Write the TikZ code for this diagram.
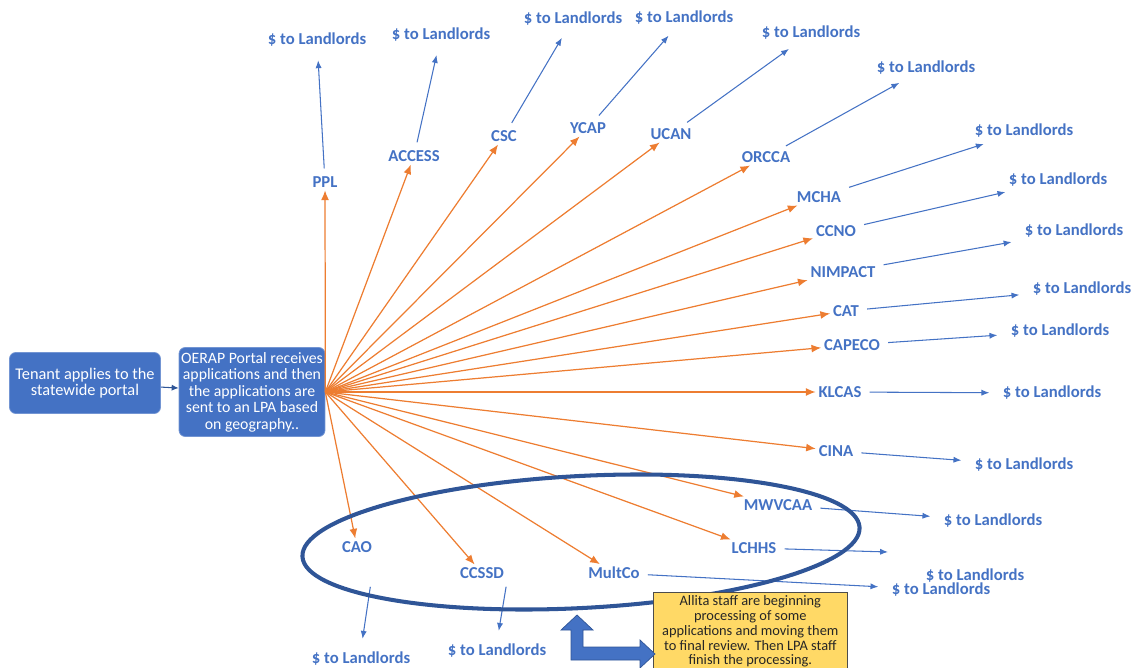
\documentclass[tikz,border=0pt]{standalone}
\usepackage{fontspec}
\setmainfont{Carlito}
\usetikzlibrary{arrows.meta}
\definecolor{lpablue}{RGB}{68,114,196}
\definecolor{feedorange}{RGB}{237,125,49}
\definecolor{ringblue}{RGB}{47,85,151}
\definecolor{notegold}{RGB}{255,217,102}
\tikzset{
	lpa/.style={font=\bfseries\fontsize{9.5}{11}\selectfont, text=lpablue, inner sep=1.5pt},
	feed/.style={feedorange, line width=0.7pt, -{Latex[length=5.5pt,width=4.5pt]}},
	pay/.style={lpablue, line width=0.6pt, -{Latex[length=4.5pt,width=3.5pt]}, shorten <=3pt, shorten >=6pt},
	portal/.style={fill=lpablue, draw=lpablue!75!white, rounded corners=3.5pt, text=white, align=center, inner sep=0pt, font=\fontsize{9.3}{9.4}\selectfont},
}
\begin{document}
\begin{tikzpicture}[x=0.02cm, y=-0.02cm]
	\useasboundingbox (0,0) rectangle (1131,668);
	
	%portal boxes
	\node[portal, minimum width=3.02cm, minimum height=1.22cm] (tenant) at (85,383) {Tenant applies to the\\statewide portal};
	\node[portal, minimum width=2.92cm, minimum height=1.78cm, font=\fontsize{9}{9.4}\selectfont] (oerap) at (252,392) {OERAP Portal receives\\applications and then\\the applications are\\sent to an LPA based\\on geography..};
	\draw[ringblue, line width=0.6pt, -{Latex[length=4pt,width=3.5pt]}] (tenant) -- (oerap);
	\coordinate (hub) at (oerap.east);
	
	%local program administrators
	\foreach \name/\txt/\x/\y in {ppl/PPL/325/182, access/ACCESS/414/156, csc/CSC/504/136, ycap/YCAP/588/128,
		ucan/UCAN/671/134, orcca/ORCCA/766/157, mcha/MCHA/819/197, ccno/CCNO/836/231, nimpact/NIMPACT/843/272,
		cat/CAT/846/311, capeco/CAPECO/852/345, klcas/KLCAS/840/392, cina/CINA/836/451, mwvcaa/MWVCAA/778/505,
		lchhs/LCHHS/754/548, multco/MultCo/614/573, ccssd/CCSSD/482/573, cao/CAO/357/547}{
		\node[lpa] (\name) at (\x,\y) {\txt};
		\draw[feed] (hub) -- (\name);
	}
	
	%payments
	\foreach \name/\x/\y in {dppl/317/40, daccess/441/35, dcsc/573/19, dycap/684/18, ducan/811/33, dorcca/926/68,
		dmcha/1024/131, dccno/1058/180, dnimpact/1074/231, dcat/1082/289, dcapeco/1060/331, dklcas/1052/393,
		dcina/1024/465, dmwvcaa/993/521, dlchhs/975/576, dmultco/941/590, dccssd/497/651, dcao/361/659}{
		\node[lpa] (\name) at (\x,\y) {\$ to Landlords};
	}
	\coordinate (lchhsend) at (888,552);
	\foreach \a/\b in {ppl/dppl, access/daccess, csc/dcsc, ycap/dycap, ucan/ducan, orcca/dorcca, mcha/dmcha,
		ccno/dccno, nimpact/dnimpact, cat/dcat, capeco/dcapeco, klcas/dklcas, cina/dcina, mwvcaa/dmwvcaa,
		multco/dmultco, ccssd.south east/dccssd.north}{
		\draw[pay] (\a) -- (\b);
	}
	\draw[pay, shorten <=18pt] (cao.south east) -- (dcao.north);
	\draw[pay, shorten >=0pt] (lchhs) -- (lchhsend);
	
	%ring round the Allita LPAs
	\draw[ringblue, line width=2.3pt, rotate around={3:(581,542)}] (581,542) ellipse [x radius=5.58cm, y radius=1.32cm];
	
	%note and bent arrow
	\node[fill=notegold, draw=black!70, line width=0.4pt, minimum width=3.88cm, minimum height=1.56cm, anchor=north west,
		align=center, inner sep=1pt, text=black!85, font=\fontsize{8.2}{8.5}\selectfont] (note) at (653,592)
		{Allita staff are beginning\\processing of some\\applications and moving them\\to final review. Then LPA staff\\finish the processing.};
	\fill[lpablue, draw=ringblue, line width=0.4pt] (577,615) -- (593,630) -- (583,630) -- (583,647) -- (640,647) -- (640,640)
		-- (655,654) -- (640,668) -- (640,660) -- (571,660) -- (571,630) -- (561,630) -- cycle;
\end{tikzpicture}
\end{document}
